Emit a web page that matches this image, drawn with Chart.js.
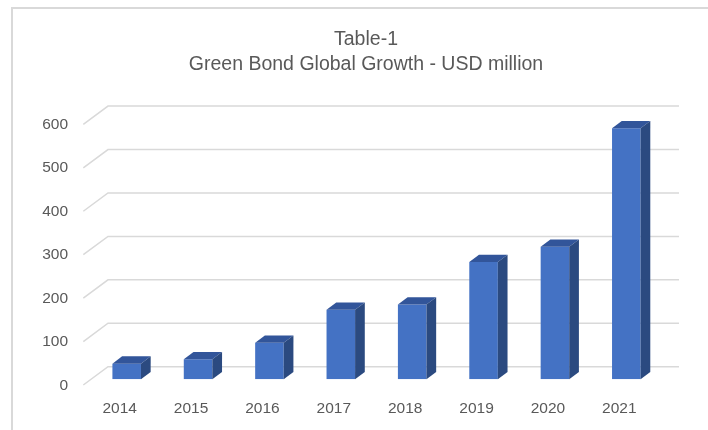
<!DOCTYPE html>
<html>
<head>
<meta charset="utf-8">
<script src="https://cdn.jsdelivr.net/npm/chart.js@4.4.1/dist/chart.umd.min.js"></script>
<style>
  html, body { margin: 0; padding: 0; background: #fff; }
  #wrap { width: 708px; height: 430px; position: relative; }
</style>
</head>
<body>
<div id="wrap"><canvas id="greenBondChart"></canvas></div>
<script>
// data (USD million)
const years = ['2014', '2015', '2016', '2017', '2018', '2019', '2020', '2021'];
const issuance = [36, 46, 84, 160, 172, 270, 305, 578];
const yTicks = [0, 100, 200, 300, 400, 500, 600];

const textColor = '#595959';
const gridColor = '#d9d9d9';

// fake 3d: back wall offset and bar depth, in pixels
const wallDX = 17, wallDY = -12.6;
const frontDX = -7.7, frontDY = 5.7;
const barDX = 9.7, barDY = -7.3;

const depthPlugin = {
  id: 'depth3d',
  beforeDraw(chart) {
    const ctx = chart.ctx;
    ctx.save();
    // outer frame
    ctx.strokeStyle = '#d9d9d9';
    ctx.lineWidth = 2;
    ctx.beginPath();
    ctx.moveTo(12, 440);
    ctx.lineTo(12, 8);
    ctx.lineTo(720, 8);
    ctx.stroke();
    ctx.restore();
  },
  beforeDatasetsDraw(chart) {
    const { ctx, chartArea, scales } = chart;
    ctx.save();
    ctx.strokeStyle = gridColor;
    ctx.lineWidth = 1.5;
    yTicks.forEach(v => {
      const y = scales.y.getPixelForValue(v);
      ctx.beginPath();
      ctx.moveTo(chartArea.left + frontDX, y + frontDY);
      ctx.lineTo(chartArea.left + wallDX, y + wallDY);
      ctx.lineTo(chartArea.right + wallDX, y + wallDY);
      ctx.stroke();
    });
    ctx.restore();
  },
  afterDatasetsDraw(chart) {
    const ctx = chart.ctx;
    const meta = chart.getDatasetMeta(0);
    ctx.save();
    meta.data.forEach(bar => {
      const l = bar.x - bar.width / 2;
      const r = bar.x + bar.width / 2;
      const t = bar.y;
      const b = bar.base;
      // top face
      ctx.fillStyle = '#32559a';
      ctx.beginPath();
      ctx.moveTo(l, t);
      ctx.lineTo(l + barDX, t + barDY);
      ctx.lineTo(r + barDX, t + barDY);
      ctx.lineTo(r, t);
      ctx.closePath();
      ctx.fill();
      // side face
      ctx.fillStyle = '#2b4a80';
      ctx.beginPath();
      ctx.moveTo(r, t);
      ctx.lineTo(r + barDX, t + barDY);
      ctx.lineTo(r + barDX, b + barDY);
      ctx.lineTo(r, b);
      ctx.closePath();
      ctx.fill();
    });
    ctx.restore();
  }
};

const ctx = document.getElementById('greenBondChart').getContext('2d');
const greenBondChart = new Chart(ctx, {
  type: 'bar',
  data: {
    labels: years,
    datasets: [{
      label: 'Green Bond Global Growth',
      data: issuance,
      backgroundColor: '#4472c4',
      borderWidth: 0,
      barPercentage: 0.8,
      categoryPercentage: 0.5
    }]
  },
  options: {
    responsive: true,
    maintainAspectRatio: false,
    animation: false,
    layout: { padding: { left: 24, right: 0, top: 16, bottom: 12 } },
    plugins: {
      legend: { display: false },
      tooltip: { enabled: false },
      title: {
        display: true,
        text: ['Table-1', 'Green Bond Global Growth - USD million'],
        color: textColor,
        font: { family: 'Liberation Sans', size: 19.5, weight: 'normal', lineHeight: 1.3 },
        padding: { top: 11, bottom: 41 }
      }
    },
    scales: {
      x: {
        afterFit: s => { s.height = 38.7; },
        grid: { display: false, drawTicks: false },
        border: { display: false },
        ticks: {
          color: textColor,
          font: { family: 'Liberation Sans', size: 15.5 },
          padding: 20,
          labelOffset: -7,
          maxRotation: 0
        }
      },
      y: {
        min: 0,
        max: 600,
        afterFit: s => { s.width = 67; },
        afterBuildTicks: s => { s.ticks = yTicks.map(v => ({ value: v })); },
        grid: { display: false, drawTicks: false },
        border: { display: false },
        ticks: {
          color: textColor,
          font: { family: 'Liberation Sans', size: 15.5 },
          padding: 23,
          labelOffset: 6
        }
      },
      yR: {
        position: 'right',
        afterFit: s => { s.width = 46; },
        grid: { display: false, drawTicks: false },
        border: { display: false },
        ticks: { display: false }
      }
    }
  },
  plugins: [depthPlugin]
});
</script>
</body>
</html>
